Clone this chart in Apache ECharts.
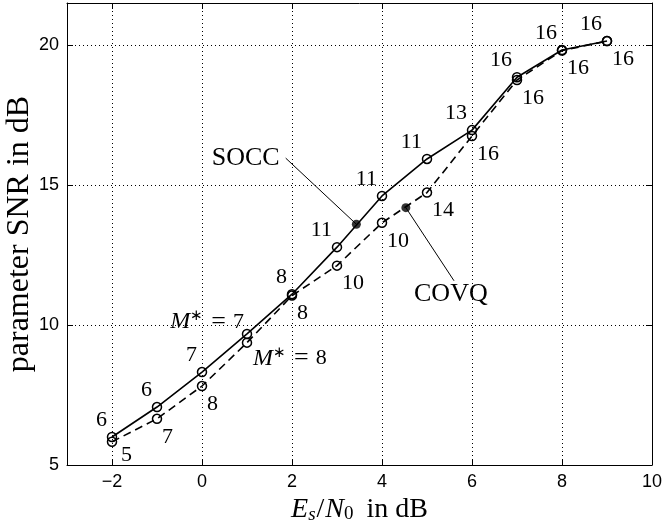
<!DOCTYPE html>
<html>
<head>
<meta charset="utf-8">
<script src="https://cdn.jsdelivr.net/npm/echarts@6/dist/echarts.min.js"></script>
<style>html,body{margin:0;padding:0;background:#fff}#c{width:664px;height:527px}</style>
</head>
<body>
<div id="c"></div>
<script>
// ---- data ----
const xTicks = [-2, 0, 2, 4, 6, 8, 10];
const yTicks = [5, 10, 15, 20];
const esn0 = [-2, -1, 0, 1, 2, 3, 4, 5, 6, 7, 8, 9];
const soccSNR = [6.0, 7.07, 8.32, 9.68, 11.1, 12.78, 14.61, 15.93, 16.96, 18.85, 19.82, 20.14];
const covqSNR = [5.83, 6.65, 7.82, 9.37, 11.05, 12.12, 13.65, 14.73, 16.75, 18.75, 19.8, 20.14];
const soccLabels = ['6', '6', '7', 'M*=7', '8', '11', '11', '11', '13', '16', '16', '16'];
const covqLabels = ['5', '7', '8', 'M*=8', '8', '10', '10', '14', '16', '16', '16', '16'];
// annotation anchors (data coordinates)
const soccMark = [3.43, 13.6];
const covqMark = [4.53, 14.19];
const soccLeaderEnd = [1.86, 15.96];
const covqLeaderEnd = [5.6, 11.58];
const soccText = [0.97, 15.95];
const covqText = [5.53, 11.1];

const SERIF = 'Liberation Serif';
const SANS = 'Liberation Sans';
const LBL = 22;

function fmtLabel(s) {
  if (s.indexOf('M*=') === 0) return '{m|M}{s|∗}{e|=}' + s.slice(3);
  return s;
}
const richM = {
  m: { fontFamily: SERIF, fontStyle: 'italic', fontSize: 24, color: '#000' },
  s: { fontFamily: SERIF, fontSize: 15, color: '#000', verticalAlign: 'top', padding: [0, 1, 0, 0] },
  e: { fontFamily: SERIF, fontSize: 26, color: '#000', padding: [0, 7, 0, 7] }
};

function mkData(ys, labels, isTop) {
  return esn0.map((x, i) => {
    const special = labels[i].indexOf('M*') === 0;
    let offset = isTop ? [-5, -17] : [5, 18];
    if (special) offset = isTop ? [-3, -12] : [6, 16];
    if (!isTop && i === 0) offset = [9, 13];
    return {
      value: [x, ys[i]],
      label: { formatter: fmtLabel(labels[i]), offset: offset }
    };
  });
}

const axisLineStyle = { color: '#000', width: 1 };
const chart = echarts.init(document.getElementById('c'), null, { renderer: 'canvas' });

chart.setOption({
  animation: false,
  backgroundColor: '#fff',
  grid: { left: 67, right: 12, top: 3, bottom: 62, containLabel: false, outerBoundsMode: 'none' },
  xAxis: [{
    type: 'value', min: -3, max: 10, position: 'bottom',
    axisLine: { show: true, onZero: false, lineStyle: axisLineStyle },
    axisTick: { show: true, inside: true, length: 6, customValues: xTicks, lineStyle: axisLineStyle },
    axisLabel: {
      customValues: xTicks, fontFamily: SANS, fontSize: 18, color: '#000', margin: 8,
      formatter: v => (v < 0 ? '−' + Math.abs(v) : String(v))
    },
    splitLine: { show: true, lineStyle: { type: [1, 3], color: '#000', width: 1 } },
    name: '{i|E}{sub|s}{n|/}{i|N}{sub0|0}{t| in dB}',
    nameLocation: 'middle', nameGap: 31,
    nameTextStyle: {
      fontFamily: SERIF, fontSize: 28, color: '#000',
      rich: {
        i: { fontFamily: SERIF, fontStyle: 'italic', fontSize: 28, color: '#000' },
        n: { fontFamily: SERIF, fontSize: 28, color: '#000', padding: [0, 1, 0, 1] },
        t: { fontFamily: SERIF, fontSize: 28, color: '#000', padding: [0, 0, 0, 6] },
        sub: { fontFamily: SERIF, fontStyle: 'italic', fontSize: 19, color: '#000', verticalAlign: 'bottom' },
        sub0: { fontFamily: SERIF, fontSize: 19, color: '#000', verticalAlign: 'bottom' }
      }
    }
  }, {
    type: 'value', min: -3, max: 10, position: 'top',
    axisLine: { show: true, onZero: false, lineStyle: axisLineStyle },
    axisTick: { show: true, inside: true, length: 6, customValues: xTicks, lineStyle: axisLineStyle },
    axisLabel: { show: false },
    splitLine: { show: false }
  }],
  yAxis: [{
    type: 'value', min: 5, max: 21.5, position: 'left',
    axisLine: { show: true, onZero: false, lineStyle: axisLineStyle },
    axisTick: { show: true, inside: true, length: 6, customValues: yTicks, lineStyle: axisLineStyle },
    axisLabel: { customValues: yTicks, fontFamily: SANS, fontSize: 18, color: '#000', margin: 8 },
    splitLine: { show: true, lineStyle: { type: [1, 3], color: '#000', width: 1 } },
    name: 'parameter SNR in dB',
    nameLocation: 'middle', nameGap: 31, nameMoveOverlap: false,
    nameTextStyle: { fontFamily: SERIF, fontSize: 32, color: '#000' }
  }, {
    type: 'value', min: 5, max: 21.5, position: 'right',
    axisLine: { show: true, onZero: false, lineStyle: axisLineStyle },
    axisTick: { show: true, inside: true, length: 6, customValues: yTicks, lineStyle: axisLineStyle },
    axisLabel: { show: false },
    splitLine: { show: false }
  }],
  series: [{
    name: 'SOCC', type: 'line', xAxisIndex: 0, yAxisIndex: 0,
    data: mkData(soccSNR, soccLabels, true),
    symbol: 'circle', symbolSize: 9,
    lineStyle: { color: '#000', width: 1.6, type: 'solid' },
    itemStyle: { color: 'rgba(0,0,0,0)', borderColor: '#000', borderWidth: 1.5 },
    label: {
      show: true, position: 'inside', align: 'right', verticalAlign: 'middle',
      fontFamily: SERIF, fontSize: LBL, color: '#000', rich: richM
    },
    z: 3
  }, {
    name: 'COVQ', type: 'line', xAxisIndex: 0, yAxisIndex: 0,
    data: mkData(covqSNR, covqLabels, false),
    symbol: 'circle', symbolSize: 9,
    lineStyle: { color: '#000', width: 1.6, type: [8, 5] },
    itemStyle: { color: 'rgba(0,0,0,0)', borderColor: '#000', borderWidth: 1.5 },
    label: {
      show: true, position: 'inside', align: 'left', verticalAlign: 'middle',
      fontFamily: SERIF, fontSize: LBL, color: '#000', rich: richM
    },
    z: 3
  }, {
    name: 'marks', type: 'scatter', xAxisIndex: 0, yAxisIndex: 0,
    data: [soccMark, covqMark],
    symbol: 'circle', symbolSize: 9,
    itemStyle: { color: '#000' },
    markLine: {
      silent: true, symbol: ['none', 'none'],
      lineStyle: { color: '#000', width: 1, type: 'solid' },
      label: { show: false },
      data: [
        [{ coord: soccMark }, { coord: soccLeaderEnd }],
        [{ coord: covqMark }, { coord: covqLeaderEnd }]
      ]
    },
    markPoint: {
      silent: true, symbol: 'circle', symbolSize: 0,
      label: { show: true, position: 'inside', fontFamily: SERIF, fontSize: 26, color: '#000' },
      data: [
        { coord: soccText, value: 'SOCC', label: { formatter: 'SOCC' } },
        { coord: covqText, value: 'COVQ', label: { formatter: 'COVQ' } }
      ]
    },
    z: 4
  }]
});
</script>
</body>
</html>
